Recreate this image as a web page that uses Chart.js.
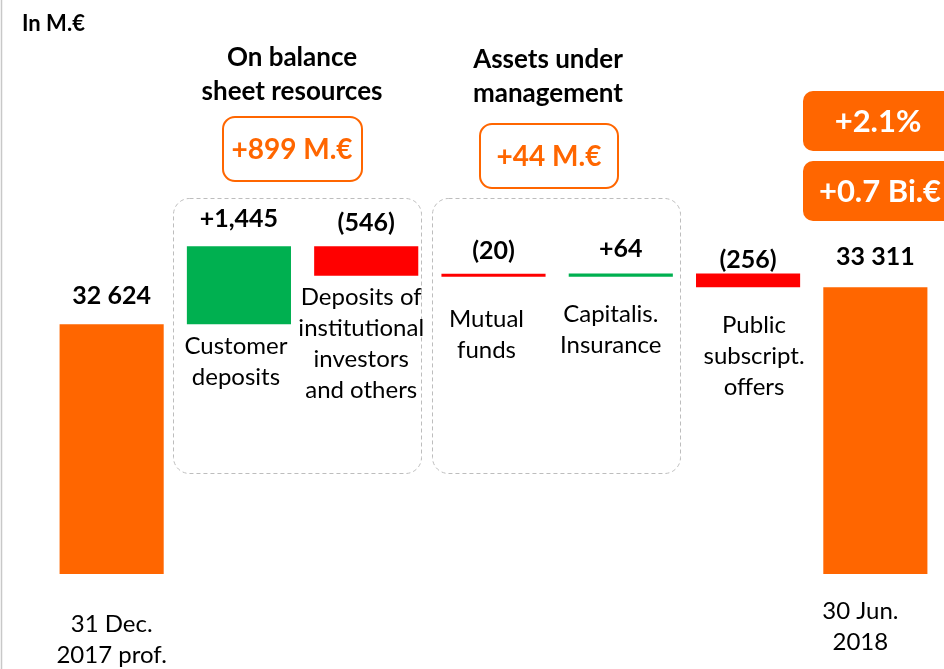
<!DOCTYPE html>
<html>
<head>
<meta charset="utf-8">
<script src="https://cdn.jsdelivr.net/npm/chart.js@4"></script>
<style>
  body { margin: 0; background: #fff; }
  canvas { display: block; }
</style>
</head>
<body>
<canvas id="waterfall" width="944" height="669"></canvas>
<script>
// data (M.€)
const categories = ["31 Dec. 2017 prof.", "Customer deposits", "Deposits of institutional investors and others",
  "Mutual funds", "Capitalis. Insurance", "Public subscript. offers", "30 Jun. 2018"];
const startTotal = 32624;
const deltas = [1445, -546, -20, 64, -256];
const endTotal = 33311;
const valueLabels = ["32 624", "+1,445", "(546)", "(20)", "+64", "(256)", "33 311"];
const catLines = [
  ["31 Dec.", "2017 prof."],
  ["Customer", "deposits"],
  ["Deposits of", "institutional", "investors", "and others"],
  ["Mutual", "funds"],
  ["Capitalis.", "Insurance"],
  ["Public", "subscript.", "offers"],
  ["30 Jun.", "2018"]
];

const ORANGE = "#FF6600", GREEN = "#00B050", RED = "#FF0000";
const AXIS_MIN = 28000;

// floating bars built from the deltas
const bars = [[AXIS_MIN, startTotal]];
let run = startTotal;
deltas.forEach(d => { bars.push([run, run + d]); run += d; });
bars.push([AXIS_MIN, endTotal]);
const colors = bars.map((b, i) => (i === 0 || i === bars.length - 1) ? ORANGE : (b[1] >= b[0] ? GREEN : RED));

// label tweaks (pixels): value label above bar top, first category line below bar bottom
const valueOffset = [-28, -27, -23, -23, -24, -13, -30];
const catOffset = [50, 22, 22, 42, 37, 38, 37];
const catShiftX = [0, -3, -5, -7, -10, 6, -15];

function roundRect(ctx, x, y, w, h, r) {
  ctx.beginPath();
  ctx.moveTo(x + r, y);
  ctx.arcTo(x + w, y, x + w, y + h, r);
  ctx.arcTo(x + w, y + h, x, y + h, r);
  ctx.arcTo(x, y + h, x, y, r);
  ctx.arcTo(x, y, x + w, y, r);
  ctx.closePath();
}

const decorations = {
  id: "decorations",
  beforeDatasetsDraw(chart) {
    const ctx = chart.ctx;
    ctx.save();
    // left frame line
    ctx.strokeStyle = "#c8c8c8";
    ctx.lineWidth = 1.5;
    ctx.beginPath(); ctx.moveTo(1.5, 0); ctx.lineTo(1.5, 669); ctx.stroke();
    // dashed group boxes
    ctx.strokeStyle = "#bdbdbd";
    ctx.lineWidth = 1;
    ctx.setLineDash([4, 3]);
    roundRect(ctx, 173.5, 198.5, 248, 275, 16); ctx.stroke();
    roundRect(ctx, 432.5, 198.5, 248, 275, 16); ctx.stroke();
    ctx.restore();
  },
  afterDatasetsDraw(chart) {
    const ctx = chart.ctx;
    const meta = chart.getDatasetMeta(0);
    ctx.save();
    ctx.textAlign = "center";
    ctx.textBaseline = "middle";

    // value and category labels
    meta.data.forEach((bar, i) => {
      const top = Math.min(bar.y, bar.base);
      const bottom = Math.max(bar.y, bar.base);
      ctx.fillStyle = "#000";
      ctx.font = "bold 25px Lato";
      ctx.fillText(valueLabels[i], bar.x, top + valueOffset[i]);
      ctx.font = "24px Lato";
      catLines[i].forEach((line, k) => {
        ctx.fillText(line, bar.x + catShiftX[i], bottom + catOffset[i] + k * 31);
      });
    });

    // header texts
    ctx.fillStyle = "#000";
    ctx.textAlign = "left";
    ctx.font = "bold 22px Lato";
    ctx.fillText("In M.€", 22, 24);
    ctx.textAlign = "center";
    ctx.font = "bold 26px Lato";
    ctx.fillText("On balance", 292, 58);
    ctx.fillText("sheet resources", 292, 92);
    ctx.fillText("Assets under", 548, 60);
    ctx.fillText("management", 548, 94);

    // orange outlined boxes
    ctx.strokeStyle = ORANGE;
    ctx.lineWidth = 2;
    roundRect(ctx, 223, 117, 139, 64, 12); ctx.stroke();
    roundRect(ctx, 480, 124, 138, 64, 12); ctx.stroke();
    ctx.fillStyle = ORANGE;
    ctx.font = "bold 28px Lato";
    ctx.fillText("+899 M.€", 292, 150);
    ctx.fillText("+44 M.€", 549, 157);

    // orange filled boxes
    roundRect(ctx, 803, 91, 160, 60, 10); ctx.fill();
    roundRect(ctx, 803, 161, 160, 60, 10); ctx.fill();
    ctx.fillStyle = "#fff";
    ctx.font = "bold 31px Lato";
    ctx.fillText("+2.1%", 878, 122);
    ctx.fillText("+0.7 Bi.€", 880, 192);
    ctx.restore();
  }
};

new Chart(document.getElementById("waterfall"), {
  type: "bar",
  data: {
    labels: categories,
    datasets: [{
      data: bars,
      backgroundColor: colors,
      borderWidth: 0,
      barPercentage: 0.818,
      categoryPercentage: 1,
      minBarLength: 3
    }]
  },
  options: {
    responsive: false,
    animation: false,
    layout: { padding: { left: 48, right: 5, top: 34, bottom: 95 } },
    plugins: { legend: { display: false }, tooltip: { enabled: false } },
    scales: {
      x: { display: false },
      y: { display: false, min: AXIS_MIN, max: 38000 }
    }
  },
  plugins: [decorations]
});
</script>
</body>
</html>
